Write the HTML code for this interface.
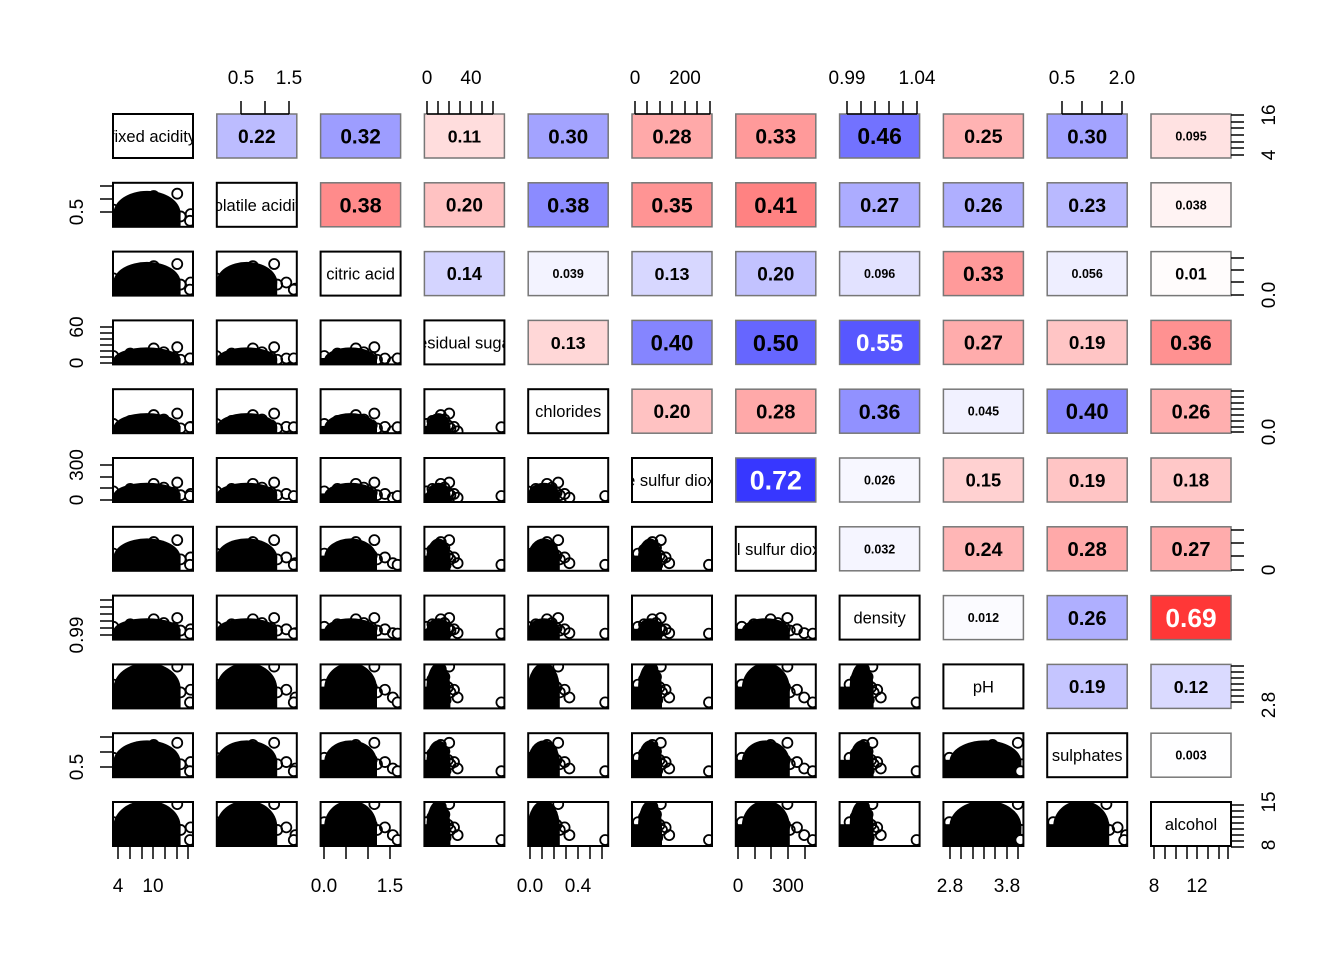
<!DOCTYPE html>
<html><head><meta charset="utf-8">
<style>
body{margin:0;background:#fff}
svg{display:block;font-family:"Liberation Sans",Arial,sans-serif}
</style></head>
<body>
<svg id="chart" width="1344" height="960" viewBox="0 0 1344 960" xmlns="http://www.w3.org/2000/svg"></svg>
<script>
const variables=["fixed acidity","volatile acidity","citric acid","residual sugar","chlorides","free sulfur dioxide","total sulfur dioxide","density","pH","sulphates","alcohol"];
const corrRows=[
 [0.22,0.32,-0.11,0.30,-0.28,-0.33,0.46,-0.25,0.30,-0.095],
 [-0.38,-0.20,0.38,-0.35,-0.41,0.27,0.26,0.23,-0.038],
 [0.14,0.039,0.13,0.20,0.096,-0.33,0.056,-0.01],
 [-0.13,0.40,0.50,0.55,-0.27,-0.19,-0.36],
 [-0.20,-0.28,0.36,0.045,0.40,-0.26],
 [0.72,0.026,-0.15,-0.19,-0.18],
 [0.032,-0.24,-0.28,-0.27],
 [0.012,0.26,-0.69],
 [0.19,0.12],
 [0.003]
];
const corrLabels=[
 ["0.22","0.32","0.11","0.30","0.28","0.33","0.46","0.25","0.30","0.095"],
 ["0.38","0.20","0.38","0.35","0.41","0.27","0.26","0.23","0.038"],
 ["0.14","0.039","0.13","0.20","0.096","0.33","0.056","0.01"],
 ["0.13","0.40","0.50","0.55","0.27","0.19","0.36"],
 ["0.20","0.28","0.36","0.045","0.40","0.26"],
 ["0.72","0.026","0.15","0.19","0.18"],
 ["0.032","0.24","0.28","0.27"],
 ["0.012","0.26","0.69"],
 ["0.19","0.12"],
 ["0.003"]
];
const centerFrac=[0.35,0.3,0.3,0.1,0.12,0.15,0.3,0.2,0.45,0.35,0.45];
const spreadFrac=[0.42,0.38,0.33,0.15,0.2,0.15,0.3,0.15,0.45,0.35,0.45];
const topAxes=[{col:1,labels:["0.5","1.5"],lx:[241,289],ticks:[241,265,289]},
 {col:3,labels:["0","40"],lx:[427,471],ticks:[427,438,449,460,471,482,493]},
 {col:5,labels:["0","200"],lx:[635,685],ticks:[635,647,660,672,685,697,710]},
 {col:7,labels:["0.99","1.04"],lx:[847,917],ticks:[847,861,875,889,903,917]},
 {col:9,labels:["0.5","2.0"],lx:[1062,1122],ticks:[1062,1082,1102,1122]}];
const bottomAxes=[{labels:["4","10"],lx:[118,153],ticks:[118,130,142,153,165,177,188]},
 {labels:["0.0","1.5"],lx:[324,390],ticks:[324,346,368,390]},
 {labels:["0.0","0.4"],lx:[530,578],ticks:[530,542,554,566,578,590,602]},
 {labels:["0","300"],lx:[738,788],ticks:[738,755,771,788,805]},
 {labels:["2.8","3.8"],lx:[950,1007],ticks:[950,961,973,984,995,1007,1018]},
 {labels:["8","12"],lx:[1154,1197],ticks:[1154,1165,1176,1187,1197,1208,1219,1228]}];
const leftAxes=[{labels:["0.5"],ly:[212],ticks:[186,199,212]},
 {labels:["0","60"],ly:[363,327],ticks:[327,333,339,345,351,357,363]},
 {labels:["0","300"],ly:[500,465],ticks:[465,477,488,500]},
 {labels:["0.99"],ly:[635],ticks:[600,607,614,621,628,635]},
 {labels:["0.5"],ly:[767],ticks:[737,752,767]}];
const rightAxes=[{labels:["16","4"],ly:[115,155],ticks:[115,122,128,135,142,148,155]},
 {labels:["0.0"],ly:[295],ticks:[258,270,282,295]},
 {labels:["0.0"],ly:[432],ticks:[391,397,403,409,415,421,427,432]},
 {labels:["0"],ly:[570],ticks:[530,543,556,570]},
 {labels:["2.8"],ly:[705],ticks:[666,672,678,684,690,696,702]},
 {labels:["15","8"],ly:[802,845],ticks:[805,811,817,823,829,835,841,847]}];

const svg=document.getElementById('chart');
const NS="http://www.w3.org/2000/svg";
function el(tag,attrs,parent){const e=document.createElementNS(NS,tag);for(const k in attrs)e.setAttribute(k,attrs[k]);(parent||svg).appendChild(e);return e;}
const X0=113,DX=103.8,W=80,Y0=114,DY=68.8,H=44;
const px=j=>X0+j*DX, py=i=>Y0+i*DY;
function colorFor(r){const a=Math.abs(r);const v=Math.max(55,Math.round(255*(1-1.2*a)));return r>=0?`rgb(${v},${v},255)`:`rgb(255,${v},${v})`;}
const pattern=[[0,0],[.3,.2],[-.3,.1],[.5,-.3],[-.5,-.2],[.8,.1],[1,0.3],[.2,-.6],[-.7,.5],[.6,.6],[1.3,.2],[-1,0],[.9,-.7],[1.6,.5]];
const n=variables.length;
for(let i=0;i<n;i++)for(let j=0;j<n;j++){
 const x=px(j),y=py(i);
 const g=el('g',{});
 if(i===j){
  
  
  const cp=el('clipPath',{id:'c'+i},g);el('rect',{x:x,y:y,width:W,height:H},cp);
  el('rect',{x:x,y:y,width:W,height:H,fill:'#fff',stroke:'#000','stroke-width':2},g);
  const t=el('text',{x:x+W/2,y:y+H/2+6,'text-anchor':'middle','font-size':16.5,'clip-path':`url(#c${i})`},g);t.textContent=variables[i];
 }else if(j>i){
  const r=corrRows[i][j-i-1],lab=corrLabels[i][j-i-1];
  
  
  el('rect',{x:x,y:y,width:W,height:H,fill:colorFor(r),stroke:'#777','stroke-width':1.5},g);
  const a=Math.abs(r);const small=lab.length>4;
  const fs=small?12.5:Math.min(28,16+15*a);
  const t=el('text',{x:x+W/2,y:y+H/2+fs*0.36,'text-anchor':'middle','font-size':fs,'font-weight':'bold',fill:a>0.52?'#fff':'#000'},g);t.textContent=lab;
 }else{
  
  
  const cp=el('clipPath',{id:'s'+i+'_'+j},g);el('rect',{x:x,y:y,width:W,height:H},cp);
  const inner=el('g',{'clip-path':`url(#s${i}_${j})`},g);
  const cx=x+W*centerFrac[j]+6,cy=y+H*(1-centerFrac[i])-4;
  const sx=W*spreadFrac[j],sy=H*spreadFrac[i]+6;
  el('ellipse',{cx:cx,cy:cy+4,rx:sx,ry:sy,fill:'#000'},inner);
  el('rect',{x:x,y:cy+2,width:Math.min(W,sx+cx-x),height:H,fill:'#000'},inner);
  pattern.forEach(p=>{el('circle',{cx:cx+p[0]*sx,cy:cy+p[1]*sy,r:5,fill:'none',stroke:'#000','stroke-width':1.8},inner);});
  el('circle',{cx:x+W-3,cy:y+H-6,r:5,fill:'#fff',stroke:'#000','stroke-width':1.8},inner);
  el('rect',{x:x,y:y,width:W,height:H,fill:'none',stroke:'#000','stroke-width':2},g);
 }
}
topAxes.forEach(a=>{const g=el('g',{});
 el('line',{x1:a.ticks[0],x2:a.ticks[a.ticks.length-1],y1:114,y2:114,stroke:'#000','stroke-width':1.5},g);
 a.ticks.forEach(t=>el('line',{x1:t,x2:t,y1:101,y2:114,stroke:'#000','stroke-width':1.5},g));
 a.labels.forEach((l,k)=>{const t=el('text',{x:a.lx[k],y:84,'text-anchor':'middle','font-size':19},g);t.textContent=l;});});
bottomAxes.forEach((a,k0)=>{const g=el('g',{});
 a.ticks.forEach(t=>el('line',{x1:t,x2:t,y1:846,y2:859,stroke:'#000','stroke-width':1.5},g));
 el('line',{x1:a.ticks[0],x2:a.ticks[a.ticks.length-1],y1:846,y2:846,stroke:'#000','stroke-width':1.5},g);
 a.labels.forEach((l,k)=>{const t=el('text',{x:a.lx[k],y:892,'text-anchor':'middle','font-size':19},g);t.textContent=l;});});
leftAxes.forEach((a,k0)=>{const g=el('g',{});
 a.ticks.forEach(t=>el('line',{x1:100,x2:113,y1:t,y2:t,stroke:'#000','stroke-width':1.5},g));
 a.labels.forEach((l,k)=>{const t=el('text',{x:83,y:a.ly[k],'text-anchor':'middle','font-size':19,transform:`rotate(-90 83 ${a.ly[k]})`},g);t.textContent=l;});});
rightAxes.forEach((a,k0)=>{const g=el('g',{});
 a.ticks.forEach(t=>el('line',{x1:1231,x2:1244,y1:t,y2:t,stroke:'#000','stroke-width':1.5},g));
 a.labels.forEach((l,k)=>{const t=el('text',{x:1275,y:a.ly[k],'text-anchor':'middle','font-size':19,transform:`rotate(-90 1275 ${a.ly[k]})`},g);t.textContent=l;});});
</script>
</body></html>
